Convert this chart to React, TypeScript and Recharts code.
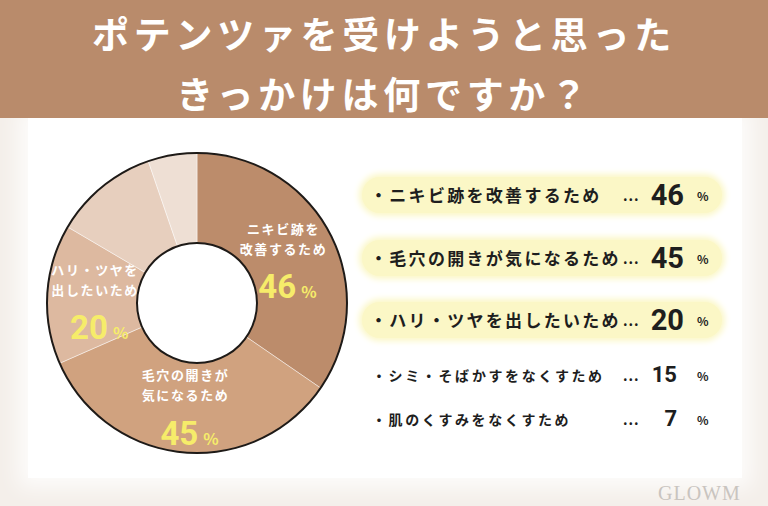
import { PieChart, Pie, Cell } from "recharts";

const categories = [
  "ニキビ跡を改善するため",
  "毛穴の開きが気になるため",
  "ハリ・ツヤを出したいため",
  "シミ・そばかすをなくすため",
  "肌のくすみをなくすため",
];
const values = [46, 45, 20, 15, 7];
const sliceLabelLines = [
  ["ニキビ跡を", "改善するため"],
  ["毛穴の開きが", "気になるため"],
  ["ハリ・ツヤを", "出したいため"],
  [],
  [],
];
const titleLines = ["ポテンツァを受けようと思った", "きっかけは何ですか？"];
const sliceColors = ["#BC8C6B", "#D0A27F", "#DDB9A0", "#E7CFBE", "#EEDFD4"];
const highlightCount = 3;

const data = categories.map((name, i) => ({ name, value: values[i] }));
const ring = [{ value: 1 }];

const JP = '"Noto Sans CJK JP", "Noto Sans", sans-serif';
const NUM = '"Liberation Sans Narrow", "Roboto", sans-serif';
const RADIAN = Math.PI / 180;

function SliceLabel(props: any) {
  const { cx, cy, midAngle, index, value } = props;
  const lines = sliceLabelLines[index] || [];
  if (!lines.length) return null;
  const r = 100;
  const x = cx + r * Math.cos(-midAngle * RADIAN);
  const y = cy + r * Math.sin(-midAngle * RADIAN);
  return (
    <g>
      {lines.map((t, i) => (
        <text
          key={i}
          x={x - 2}
          y={y - 28 + i * 20}
          textAnchor="middle"
          dominantBaseline="central"
          fill="#ffffff"
          fontFamily={JP}
          fontWeight={700}
          fontSize={13}
          letterSpacing={1.6}
        >
          {t}
        </text>
      ))}
      <text
        x={x + 2}
        y={y + 42}
        textAnchor="middle"
        fill="#F6EC6A"
        fontFamily={NUM}
        fontWeight={700}
        fontSize={33}
      >
        {value}
        <tspan fontSize={16} dx={5} fontFamily={JP}>
          %
        </tspan>
      </text>
    </g>
  );
}

export default function App() {
  return (
    <div
      style={{
        position: "absolute",
        left: 0,
        top: 0,
        width: 768,
        height: 506,
        overflow: "hidden",
        background: "#F4EFEA",
        fontFamily: JP,
      }}
    >
      {/* white card */}
      <div
        style={{
          position: "absolute",
          left: 28,
          top: 118,
          width: 714,
          height: 360,
          background: "#FFFFFF",
          boxShadow: "0 0 20px 10px rgba(255,255,255,0.8)",
        }}
      />
      {/* header */}
      <div
        style={{
          position: "absolute",
          left: 0,
          top: 0,
          width: 768,
          height: 118,
          background: "#B98B6B",
          color: "#ffffff",
          textAlign: "center",
          fontWeight: 700,
          fontSize: 37,
          letterSpacing: 4.7,
          lineHeight: "60px",
          paddingTop: 3,
          boxSizing: "border-box",
        }}
      >
        {titleLines.map((t) => (
          <div key={t}>{t}</div>
        ))}
      </div>

      <div style={{ position: "absolute", left: 0, top: 0 }}>
        <PieChart
          width={400}
          height={506}
          margin={{ top: 0, right: 0, bottom: 0, left: 0 }}
        >
          <Pie
            data={data}
            dataKey="value"
            cx={197}
            cy={303}
            innerRadius={60}
            outerRadius={150}
            startAngle={90}
            endAngle={-270}
            stroke="rgba(255,255,255,0.45)"
            strokeWidth={1}
            label={SliceLabel}
            labelLine={false}
            isAnimationActive={false}
          >
            {data.map((d, i) => (
              <Cell key={d.name} fill={sliceColors[i]} />
            ))}
          </Pie>
          <Pie
            data={ring}
            dataKey="value"
            cx={197}
            cy={303}
            innerRadius={149}
            outerRadius={151}
            startAngle={90}
            endAngle={-270}
            fill="#1E1A17"
            stroke="none"
            isAnimationActive={false}
          />
          <Pie
            data={ring}
            dataKey="value"
            cx={197}
            cy={303}
            innerRadius={59}
            outerRadius={61}
            startAngle={90}
            endAngle={-270}
            fill="#1E1A17"
            stroke="none"
            isAnimationActive={false}
          />
        </PieChart>
      </div>

      {/* ranking list */}
      {categories.map((c, i) => {
        const big = i < highlightCount;
        const top = big ? 177 + i * 62.5 : 362 + (i - highlightCount) * 44;
        const h = big ? 36 : 26;
        return (
          <div
            key={c}
            style={{
              position: "absolute",
              left: 362,
              top,
              width: 360,
              height: h,
              borderRadius: h / 2,
              background: big ? "#FBF7C6" : "transparent",
              boxShadow: big ? "0 0 6px 3px #FBF7C6" : "none",
              color: "#1E1E1E",
              fontWeight: 700,
            }}
          >
            <span
              style={{
                position: "absolute",
                left: big ? 8 : 10,
                top: 0,
                lineHeight: `${h}px`,
                fontSize: big ? 17 : 14,
                letterSpacing: big ? 2.3 : 2.6,
                whiteSpace: "nowrap",
              }}
            >
              {"・" + c}
            </span>
            <span
              style={{
                position: "absolute",
                left: 259,
                top: 0,
                lineHeight: `${h}px`,
                fontSize: 14,
                letterSpacing: 1,
                background: big ? "#FBF7C6" : "#ffffff",
                paddingLeft: 2,
              }}
            >
              ...
            </span>
            <span
              style={{
                position: "absolute",
                right: big ? 38 : 45,
                top: 0,
                lineHeight: `${h}px`,
                fontFamily: NUM,
                fontSize: big ? 29 : 22,
              }}
            >
              {values[i]}
            </span>
            <span
              style={{
                position: "absolute",
                left: 335,
                top: 1,
                lineHeight: `${h}px`,
                fontSize: 12,
              }}
            >
              %
            </span>
          </div>
        );
      })}

      <div
        style={{
          position: "absolute",
          left: 658,
          top: 482,
          fontFamily: '"Liberation Serif", serif',
          fontSize: 20,
          letterSpacing: 1,
          color: "#C9C4BF",
        }}
      >
        GLOWM
      </div>
    </div>
  );
}
